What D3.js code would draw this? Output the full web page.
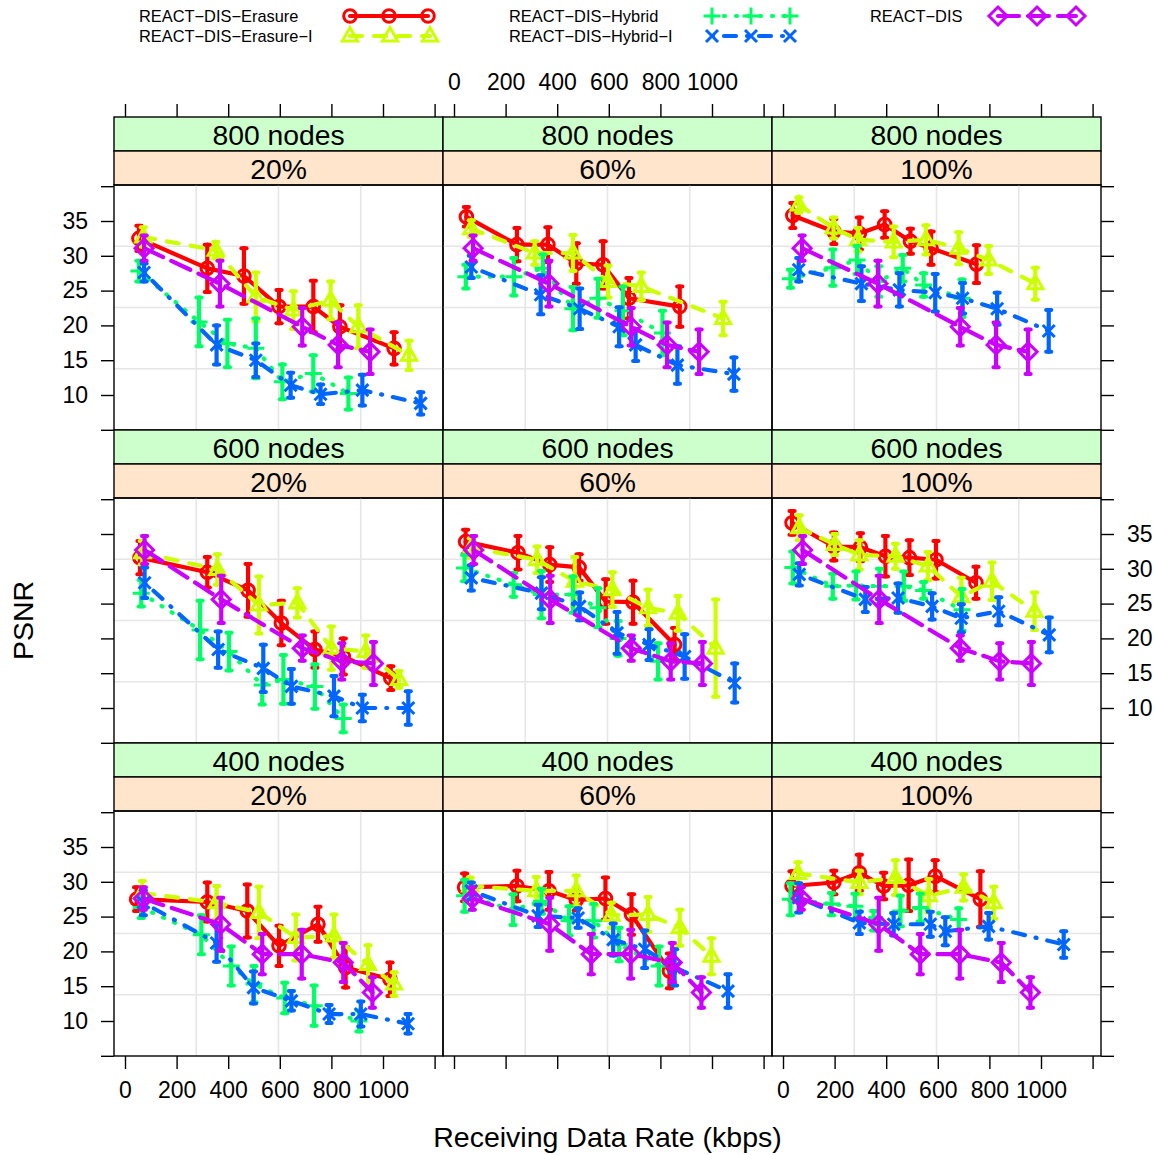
<!DOCTYPE html>
<html><head><meta charset="utf-8">
<script src="https://cdn.jsdelivr.net/npm/d3@7"></script>
<style>
body{margin:0;background:#fff}
svg{display:block}
text{font-family:"Liberation Sans",Arial,Helvetica,sans-serif;fill:#000}
</style>
</head><body>
<svg id="chart" width="1156" height="1155"></svg>
<script>
// ---------------- DATA ----------------
// each point: [rate (kbps), PSNR mean, error half-width]
const nodeLevels = ["800 nodes", "600 nodes", "400 nodes"];
const rateLevels = ["20%", "60%", "100%"];
const seriesNames = ["REACT−DIS−Erasure", "REACT−DIS−Erasure−I", "REACT−DIS−Hybrid", "REACT−DIS−Hybrid−I", "REACT−DIS"];
const seriesColors = ["#FF0000", "#CCFF00", "#00FF66", "#0066FF", "#CC00FF"];
const xTicks = [0, 200, 400, 600, 800, 1000, 1200];
const xTickLabels = ["0", "200", "400", "600", "800", "1000", ""];
const yTicks = [5, 10, 15, 20, 25, 30, 35, 40];
const yTickLabels = ["", "10", "15", "20", "25", "30", "35", ""];

// 800 nodes
const erasure_800_20 = [[54,32.5,1.8],[319,28.2,3.4],[461,27.1,4.0],[597,22.7,2.4],[730,22.7,3.7],[833,19.8,3.1],[1043,16.7,2.3]];
const erasureI_800_20 = [[71,32.7,1.4],[352,30.8,1.2],[507,24.1,3.5],[653,22.2,2.7],[797,23.6,2.7],[904,19.8,3.1],[1101,15.7,2.1]];
const hybrid_800_20 = [[54,27.8,1.5],[287,20.5,3.5],[397,17.4,3.4],[507,16.7,4.3],[610,11.9,2.5],[730,13.1,2.6],[866,10.2,2.3]];
const hybridI_800_20 = [[74,27.6,1.3],[355,17.2,2.8],[507,15.0,2.4],[642,11.4,1.8],[758,10.1,1.4],[920,10.7,2.2],[1146,8.8,1.6]];

const erasure_800_60 = [[48,35.6,1.4],[244,31.6,2.4],[364,31.6,2.5],[474,28.9,2.9],[578,28.7,3.4],[678,23.9,2.9],[875,22.7,2.9]];
const erasureI_800_60 = [[67,33.9,1.2],[313,30.4,1.7],[461,30.4,2.6],[597,26.3,2.3],[726,25.6,2.0],[1043,21.0,2.4]];
const hybrid_800_60 = [[46,27.0,1.7],[232,27.0,2.7],[345,28.2,2.0],[461,22.4,3.1],[558,23.9,2.8],[655,22.1,3.5],[808,18.9,3.2]];
const hybridI_800_60 = [[67,28.4,1.6],[336,24.4,2.8],[487,22.4,2.9],[640,19.8,2.8],[704,17.2,2.3],[866,14.3,2.7],[1085,13.0,2.4]];

const erasure_800_100 = [[38,35.8,1.8],[197,33.5,1.8],[296,33.2,2.3],[394,34.5,1.9],[494,32.1,1.8],[574,31.1,2.4],[750,28.8,2.7]];
const erasureI_800_100 = [[61,37.3,1.1],[196,34.0,1.5],[291,32.3,1.7],[429,32.0,2.2],[554,32.3,2.1],[681,31.1,2.3],[797,29.4,2.0],[978,26.0,2.3]];
const hybrid_800_100 = [[29,26.7,1.3],[193,28.3,2.6],[287,29.4,2.0],[371,26.3,2.2],[464,28.2,1.9],[545,25.8,1.7],[694,23.9,2.7]];
const hybridI_800_100 = [[61,28.0,1.7],[304,26.0,2.5],[451,25.1,2.4],[590,24.7,2.7],[696,23.9,2.2],[830,22.4,2.3],[1030,19.2,3.0]];

const dis_800 = [[74,31.1,1.8],[368,26.0,3.3],[687,19.8,2.7],[826,17.2,3.2],[950,16.2,3.2]];

// 600 nodes
const erasure_600_20 = [[58,31.6,2.4],[319,29.5,2.2],[477,26.9,3.8],[606,22.2,3.2],[736,18.4,2.6],[846,17.4,2.6],[1030,14.3,1.7]];
const erasureI_600_20 = [[67,32.3,1.7],[358,29.9,2.2],[519,24.8,4.1],[668,25.1,2.1],[800,18.6,3.1],[933,18.1,2.3],[1062,14.1,1.2]];
const hybrid_600_20 = [[63,26.5,1.9],[291,21.2,4.2],[403,18.1,2.7],[532,13.3,2.8],[614,14.1,3.5],[736,13.1,3.2],[846,8.5,2.0]];
const hybridI_600_20 = [[76,28.0,2.2],[361,18.4,2.6],[536,15.7,3.4],[645,13.1,2.5],[810,11.7,2.9],[920,10.0,1.9],[1098,10.0,2.4]];

const erasure_600_60 = [[45,33.9,1.7],[248,32.3,2.4],[371,30.6,2.5],[485,30.2,1.9],[588,25.3,3.2],[694,25.2,3.1],[855,19.1,2.4]];
const erasureI_600_60 = [[67,33.0,1.4],[322,31.3,1.9],[468,28.2,3.5],[614,27.0,2.5],[752,24.4,2.6],[868,23.6,2.5],[1014,18.6,7.0]];
const hybrid_600_60 = [[41,30.1,1.9],[231,27.7,1.7],[339,26.3,3.4],[461,26.3,2.6],[558,24.4,2.8],[636,20.0,2.5],[791,16.7,2.6]];
const hybridI_600_60 = [[67,28.7,1.8],[339,26.5,2.3],[487,24.6,2.0],[632,20.8,3.0],[756,19.1,2.2],[894,17.4,3.2],[1088,13.6,2.8]];

const erasure_600_100 = [[35,36.6,1.7],[197,33.2,2.0],[300,33.1,2.0],[397,31.8,2.9],[490,31.6,2.5],[593,31.3,2.7],[748,28.0,2.3]];
const erasureI_600_100 = [[63,35.9,1.8],[201,33.5,1.5],[296,32.0,2.1],[436,31.8,1.8],[562,30.4,2.0],[691,26.0,2.7],[810,28.2,2.7],[975,23.9,2.7]];
const hybrid_600_100 = [[38,30.2,2.3],[193,27.5,1.8],[283,27.6,2.0],[374,27.5,2.5],[468,27.5,2.1],[545,26.9,1.2],[694,24.1,3.0]];
const hybridI_600_100 = [[63,29.2,1.6],[319,25.6,1.8],[446,25.8,2.1],[578,24.6,1.9],[691,22.9,2.0],[836,23.9,2.0],[1032,20.5,2.5]];

const dis_600 = [[76,32.7,2.0],[373,25.6,3.4],[687,18.6,1.8],[840,16.7,2.6],[963,16.4,3.1]];

// 400 nodes
const erasure_400_20 = [[45,27.5,1.7],[319,27.1,2.8],[474,25.8,3.8],[597,20.8,2.9],[748,23.9,2.5],[855,17.7,2.9],[1027,16.0,2.4]];
const erasureI_400_20 = [[67,28.4,1.7],[355,27.0,2.4],[519,25.6,3.7],[662,22.0,3.3],[810,22.2,3.1],[942,18.1,2.8],[1043,15.3,1.7]];
const hybrid_400_20 = [[63,26.3,1.5],[296,22.4,2.8],[412,17.9,2.8],[500,15.3,2.6],[619,13.3,2.2],[733,12.2,2.9],[907,10.0,1.5]];
const hybridI_400_20 = [[71,27.0,1.8],[355,21.2,2.7],[498,14.8,2.3],[645,12.9,1.4],[791,11.0,1.3],[914,11.0,1.8],[1097,9.6,1.4]];

const erasure_400_60 = [[41,29.2,2.0],[244,29.4,2.2],[368,28.7,2.7],[474,27.4,1.5],[587,27.6,3.0],[688,25.3,2.9],[835,17.2,2.5]];
const erasureI_400_60 = [[63,29.4,1.2],[319,28.7,2.0],[474,28.7,2.2],[610,25.2,1.8],[752,25.3,2.5],[875,23.4,2.6],[998,19.3,2.6]];
const hybrid_400_60 = [[41,28.0,2.3],[229,26.0,2.2],[339,27.2,1.8],[446,24.4,2.1],[541,24.4,2.4],[640,21.0,2.4],[795,17.9,2.8]];
const hybridI_400_60 = [[67,28.7,1.2],[326,25.1,1.6],[481,24.8,1.4],[617,21.7,2.3],[739,20.3,2.7],[855,17.7,2.6],[1062,14.3,2.4]];

const erasure_400_100 = [[35,29.4,2.1],[197,29.9,1.7],[296,31.3,2.6],[390,29.4,1.9],[487,29.5,3.7],[590,30.8,2.3],[765,27.5,4.0]];
const erasureI_400_100 = [[58,31.2,1.6],[296,29.9,1.7],[436,30.6,2.5],[565,28.0,2.4],[700,29.2,1.9],[817,27.0,2.3]];
const hybrid_400_100 = [[29,27.5,2.3],[188,26.8,1.6],[279,26.5,1.8],[351,24.4,1.4],[455,25.8,2.2],[532,26.3,2.0],[681,24.6,1.6]];
const hybridI_400_100 = [[61,27.7,2.1],[296,24.1,1.6],[429,23.9,1.6],[571,23.9,1.8],[629,22.9,2.0],[797,23.6,1.9],[1088,21.0,1.9]];

const dis_400 = [[71,27.6,1.6],[371,23.9,3.8],[532,19.6,2.9],[685,19.6,3.5],[846,18.4,2.8],[959,14.1,2.2]];

// panels[row][col] -> series data in the order of seriesNames
const panels = [
  [[erasure_800_20, erasureI_800_20, hybrid_800_20, hybridI_800_20, dis_800],
   [erasure_800_60, erasureI_800_60, hybrid_800_60, hybridI_800_60, dis_800],
   [erasure_800_100, erasureI_800_100, hybrid_800_100, hybridI_800_100, dis_800]],
  [[erasure_600_20, erasureI_600_20, hybrid_600_20, hybridI_600_20, dis_600],
   [erasure_600_60, erasureI_600_60, hybrid_600_60, hybridI_600_60, dis_600],
   [erasure_600_100, erasureI_600_100, hybrid_600_100, hybridI_600_100, dis_600]],
  [[erasure_400_20, erasureI_400_20, hybrid_400_20, hybridI_400_20, dis_400],
   [erasure_400_60, erasureI_400_60, hybrid_400_60, hybridI_400_60, dis_400],
   [erasure_400_100, erasureI_400_100, hybrid_400_100, hybridI_400_100, dis_400]]
];

// ---------------- STYLE / LAYOUT ----------------
const LW = 4.2;
const dashes = [null, "12,12", "1,11", "1,11,12,11", "21,9"];
const symbolPaths = [
  "M0,-6.3A6.3,6.3 0 1,1 0,6.3A6.3,6.3 0 1,1 0,-6.3Z",          // circle
  "M0,-8.5L7.6,5L-7.6,5Z",                                        // triangle
  "M-8.5,0H8.5M0,-8.5V8.5",                                       // plus
  "M-6,-6L6,6M-6,6L6,-6",                                         // x
  "M0,-9L9,0L0,9L-9,0Z"                                           // diamond
];
const colX = [114, 443, 772];
const panelW = 329;
const rowY = [117, 430, 743];
const stripH = 34;
const panelH = 245;
const tickLen = 13;
const font = '"Liberation Sans",Arial,Helvetica,sans-serif';

const svg = d3.select("#chart");
svg.append("rect").attr("width", 1156).attr("height", 1155).attr("fill", "#fff");

const x = d3.scaleLinear().domain([-11 / 0.258, (panelW - 11) / 0.258]).range([0, panelW]);
const y = d3.scaleLinear().domain([10 - 35 / 6.96, 35 + 36 / 6.96]).range([panelH, 0]);

const line = d3.line().x(d => x(d[0])).y(d => y(d[1]));

function drawSymbol(g, i, px, py) {
  g.append("path").attr("d", symbolPaths[i])
    .attr("transform", `translate(${px},${py})`)
    .attr("fill", "none").attr("stroke", seriesColors[i])
    .attr("stroke-width", 3).attr("stroke-linejoin", "miter");
}

for (let r = 0; r < 3; r++) {
  for (let c = 0; c < 3; c++) {
    const px0 = colX[c], top = rowY[r];
    // strips
    svg.append("rect").attr("x", px0).attr("y", top).attr("width", panelW).attr("height", stripH)
      .attr("fill", "#CCFFCC").attr("stroke", "#000").attr("stroke-width", 1.4);
    svg.append("text").attr("x", px0 + panelW / 2).attr("y", top + stripH / 2 + 1)
      .attr("text-anchor", "middle").attr("dominant-baseline", "central")
      .style("font-size", "28.3px").text(nodeLevels[r]);
    svg.append("rect").attr("x", px0).attr("y", top + stripH).attr("width", panelW).attr("height", stripH)
      .attr("fill", "#FFE5CC").attr("stroke", "#000").attr("stroke-width", 1.4);
    svg.append("text").attr("x", px0 + panelW / 2).attr("y", top + stripH * 1.5 + 1)
      .attr("text-anchor", "middle").attr("dominant-baseline", "central")
      .style("font-size", "28.3px").text(rateLevels[c]);

    const g = svg.append("g").attr("transform", `translate(${px0},${top + 2 * stripH})`);
    // grid (quarters of the panel)
    for (let k = 1; k < 4; k++) {
      g.append("line").attr("x1", panelW * k / 4).attr("x2", panelW * k / 4).attr("y1", 0).attr("y2", panelH)
        .attr("stroke", "#E6E6E6").attr("stroke-width", 1.6);
      g.append("line").attr("y1", panelH * k / 4).attr("y2", panelH * k / 4).attr("x1", 0).attr("x2", panelW)
        .attr("stroke", "#E6E6E6").attr("stroke-width", 1.6);
    }
    const clipId = `clip${r}${c}`;
    g.append("clipPath").attr("id", clipId).append("rect").attr("width", panelW).attr("height", panelH);
    const pg = g.append("g").attr("clip-path", `url(#${clipId})`);
    panels[r][c].forEach((data, i) => {
      const sg = pg.append("g");
      sg.append("path").datum(data).attr("d", line)
        .attr("fill", "none").attr("stroke", seriesColors[i]).attr("stroke-width", LW)
        .attr("stroke-linecap", "round").attr("stroke-linejoin", "round")
        .attr("stroke-dasharray", dashes[i]);
      data.forEach(d => {
        const cx = x(d[0]);
        const y1 = y(d[1] + d[2]), y2 = y(d[1] - d[2]);
        sg.append("line").attr("x1", cx).attr("x2", cx).attr("y1", y1).attr("y2", y2)
          .attr("stroke", seriesColors[i]).attr("stroke-width", LW).attr("stroke-linecap", "round");
        [y1, y2].forEach(yy => sg.append("line").attr("x1", cx - 2.6).attr("x2", cx + 2.6)
          .attr("y1", yy).attr("y2", yy).attr("stroke", seriesColors[i]).attr("stroke-width", 4)
          .attr("stroke-linecap", "round"));
        drawSymbol(sg, i, cx, y(d[1]));
      });
    });
    g.append("rect").attr("width", panelW).attr("height", panelH)
      .attr("fill", "none").attr("stroke", "#000").attr("stroke-width", 1.4);
  }
}

// ---------------- AXES ----------------
function styleAxis(sel) {
  sel.select(".domain").remove();
  sel.selectAll(".tick line").attr("stroke", "#000").attr("stroke-width", 1.4);
  sel.selectAll(".tick text").style("font-size", "23px").style("font-family", font).attr("fill", "#000");
}
const bottomY = rowY[2] + 2 * stripH + panelH;
for (let c = 0; c < 3; c++) {
  const sx = x.copy().range([colX[c], colX[c] + panelW]);
  const topAx = d3.axisTop(sx).tickValues(xTicks).tickSize(tickLen).tickPadding(14)
    .tickFormat((d, i) => c === 1 ? xTickLabels[i] : "");
  svg.append("g").attr("transform", `translate(0,${rowY[0]})`).call(topAx).call(styleAxis);
  const botAx = d3.axisBottom(sx).tickValues(xTicks).tickSize(tickLen).tickPadding(13)
    .tickFormat((d, i) => c !== 1 ? xTickLabels[i] : "");
  svg.append("g").attr("transform", `translate(0,${bottomY})`).call(botAx).call(styleAxis);
}
for (let r = 0; r < 3; r++) {
  const pTop = rowY[r] + 2 * stripH;
  const sy = y.copy().range([pTop + panelH, pTop]);
  const leftAx = d3.axisLeft(sy).tickValues(yTicks).tickSize(tickLen).tickPadding(13)
    .tickFormat((d, i) => r !== 1 ? yTickLabels[i] : "");
  svg.append("g").attr("transform", `translate(${colX[0]},0)`).call(leftAx).call(styleAxis);
  const rightAx = d3.axisRight(sy).tickValues(yTicks).tickSize(tickLen).tickPadding(13)
    .tickFormat((d, i) => r === 1 ? yTickLabels[i] : "");
  svg.append("g").attr("transform", `translate(${colX[2] + panelW},0)`).call(rightAx).call(styleAxis);
}

// axis titles
svg.append("text").attr("x", (colX[0] + colX[2] + panelW) / 2).attr("y", 1147)
  .attr("text-anchor", "middle").style("font-size", "28.5px").text("Receiving Data Rate (kbps)");
svg.append("text").attr("transform", `translate(33,${(rowY[0] + 2 * stripH + bottomY) / 2}) rotate(-90)`)
  .attr("text-anchor", "middle").style("font-size", "28.5px").text("PSNR");

// ---------------- LEGEND ----------------
const legendItems = [
  {i: 0, tx: 139, ty: 16, sx: [350, 389, 428]},
  {i: 1, tx: 139, ty: 36, sx: [350, 390, 430]},
  {i: 2, tx: 509, ty: 16, sx: [712, 751, 790]},
  {i: 3, tx: 509, ty: 36, sx: [712, 751, 790]},
  {i: 4, tx: 870, ty: 16, sx: [998, 1037, 1076]}
];
legendItems.forEach(it => {
  const lg = svg.append("g");
  lg.append("text").attr("x", it.tx).attr("y", it.ty).attr("dominant-baseline", "central")
    .style("font-size", "16.4px").text(seriesNames[it.i]);
  lg.append("line").attr("x1", it.sx[0]).attr("x2", it.sx[2]).attr("y1", it.ty).attr("y2", it.ty)
    .attr("stroke", seriesColors[it.i]).attr("stroke-width", LW).attr("stroke-linecap", "round")
    .attr("stroke-dasharray", dashes[it.i]);
  it.sx.forEach(sx => drawSymbol(lg, it.i, sx, it.ty));
});
</script>
</body></html>
